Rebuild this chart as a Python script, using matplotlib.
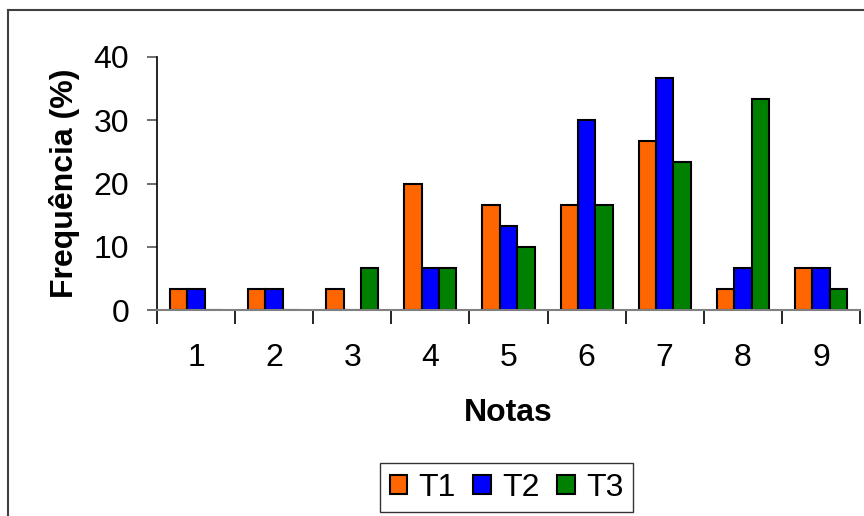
import numpy as np
import matplotlib.pyplot as plt
from matplotlib.lines import Line2D

plt.rcParams['font.family'] = ['Liberation Sans', 'DejaVu Sans']

# dados
notas = [1, 2, 3, 4, 5, 6, 7, 8, 9]
t1 = [3.33, 3.33, 3.33, 20.0, 16.67, 16.67, 26.67, 3.33, 6.67]
t2 = [3.33, 3.33, 0, 6.67, 13.33, 30.0, 36.67, 6.67, 6.67]
t3 = [0, 0, 6.67, 6.67, 10.0, 16.67, 23.33, 33.33, 3.33]
series = [("T1", t1, "#FF6600"), ("T2", t2, "#0000FF"), ("T3", t3, "#008000")]

fig = plt.figure(figsize=(8.64, 5.16), dpi=100)
ax = fig.add_axes([157 / 864, 206 / 516, (860 - 157) / 864, (459 - 206) / 516])

x = np.arange(len(notas)) + 1
w = 0.222
for i, (nome, vals, cor) in enumerate(series):
    ax.bar(x + (i - 1) * w, vals, width=w, color=cor, edgecolor='black',
           linewidth=1.5, label=nome)

ax.set_xlim(0.5, 9.5)
ax.set_ylim(0, 40)
ax.set_yticks([0, 10, 20, 30, 40])
ax.set_xticks(x)
ax.set_xticklabels([str(n) for n in notas])
ax.set_xticks(np.arange(0.5, 10, 1), minor=True)
ax.tick_params(axis='x', which='major', length=0, labelsize=23, pad=24)
ax.tick_params(axis='x', which='minor', length=10, width=1.2, color='black')
ax.tick_params(axis='y', length=7, width=1.2, color='#555555', labelsize=23, pad=13)

for s in ['top', 'right']:
    ax.spines[s].set_visible(False)
ax.spines['left'].set_color('black')
ax.spines['left'].set_linewidth(1.2)
ax.spines['bottom'].set_color('#808080')
ax.spines['bottom'].set_linewidth(1.5)

ax.set_xlabel("Notas", fontsize=23, fontweight='bold', labelpad=18)
ax.set_ylabel("Frequência (%)", fontsize=23, fontweight='bold', labelpad=10)

leg = ax.legend(loc='upper center', bbox_to_anchor=(0.497, -0.605), ncol=3,
                fontsize=23, frameon=True, fancybox=False, edgecolor='black',
                handlelength=0.55, handleheight=0.55, handletextpad=0.35,
                columnspacing=0.55, borderpad=0.3, borderaxespad=0)
leg.get_frame().set_linewidth(1.0)

# moldura externa
fig.add_artist(Line2D([8 / 864, 8 / 864], [1 - 10 / 516, -0.05], color='#404040',
                      lw=1.5, transform=fig.transFigure))
fig.add_artist(Line2D([8 / 864, 1.05], [1 - 10 / 516, 1 - 10 / 516], color='#404040',
                      lw=1.5, transform=fig.transFigure))

fig.savefig("out.png", dpi=100)
